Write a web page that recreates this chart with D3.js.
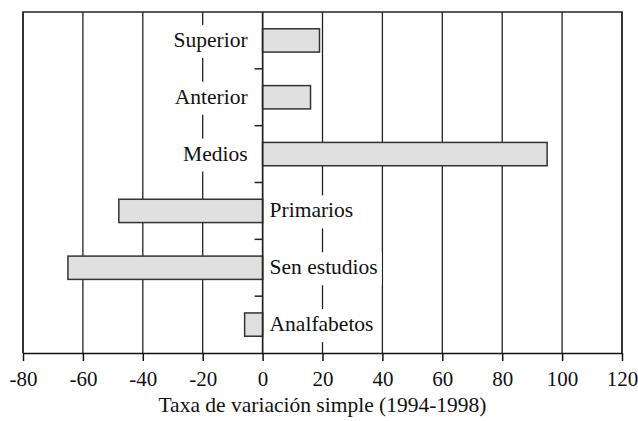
<!DOCTYPE html>
<html>
<head>
<meta charset="utf-8">
<script src="https://cdn.jsdelivr.net/npm/d3@7"></script>
<style>
  body { margin: 0; background: #fff; }
</style>
</head>
<body>
<div id="chart"></div>
<script>
// categories top to bottom
const categories = ["Superior", "Anterior", "Medios", "Primarios", "Sen estudios", "Analfabetos"];
const values = [19, 16, 95, -48, -65, -6];
const xTicks = [-80, -60, -40, -20, 0, 20, 40, 60, 80, 100, 120];
const xTitle = "Taxa de variación simple (1994-1998)";

const serif = "'Liberation Serif'";

const width = 638;
const height = 421;
const margin = { top: 12, right: 16, bottom: 68, left: 23 };
const innerW = width - margin.left - margin.right;
const innerH = height - margin.top - margin.bottom;

const svg = d3.select("#chart")
    .append("svg")
    .attr("width", width)
    .attr("height", height);

const g = svg.append("g")
    .attr("transform", `translate(${margin.left},${margin.top})`);

const x = d3.scaleLinear()
    .domain([-80, 120])
    .range([0, innerW]);

const y = d3.scaleBand()
    .domain(categories)
    .range([0, innerH])
    .paddingInner(0.59)
    .paddingOuter(0.295);

// band boundaries for the little ticks on the zero axis
const step = innerH / categories.length;

// vertical grid lines
g.append("g")
    .selectAll("line")
    .data(xTicks)
    .enter().append("line")
    .attr("x1", d => x(d))
    .attr("x2", d => x(d))
    .attr("y1", 0)
    .attr("y2", innerH)
    .attr("stroke", "#222")
    .attr("stroke-width", 1.3);

// category labels, white boxes hide the grid behind them
const labels = g.append("g")
    .selectAll("g")
    .data(categories)
    .enter().append("g");

labels.each(function(d, i) {
    const sel = d3.select(this);
    const cy = y(d) + y.bandwidth() / 2;
    const pos = values[i] >= 0;
    const t = sel.append("text")
        .attr("x", pos ? x(0) - 15 : x(0) + 7)
        .attr("y", cy)
        .attr("dy", "0.3em")
        .attr("text-anchor", pos ? "end" : "start")
        .attr("fill", "#111")
        .style("font-family", serif)
        .style("font-size", "21.5px")
        .text(d);
    const bb = t.node().getBBox();
    sel.insert("rect", "text")
        .attr("x", bb.x - 4)
        .attr("y", cy - 15.5)
        .attr("width", bb.width + 8)
        .attr("height", 33)
        .attr("fill", "#fff");
});

// bars
g.append("g")
    .selectAll("rect")
    .data(categories)
    .enter().append("rect")
    .attr("x", (d, i) => x(Math.min(0, values[i])))
    .attr("y", d => y(d))
    .attr("width", (d, i) => Math.abs(x(values[i]) - x(0)))
    .attr("height", y.bandwidth())
    .attr("fill", "#e0e0e0")
    .attr("stroke", "#333")
    .attr("stroke-width", 1.5);

// zero axis with category separators
g.append("line")
    .attr("x1", x(0)).attr("x2", x(0))
    .attr("y1", 0).attr("y2", innerH)
    .attr("stroke", "#222")
    .attr("stroke-width", 1.5);

g.append("g")
    .selectAll("line")
    .data(d3.range(1, categories.length))
    .enter().append("line")
    .attr("x1", x(0) - 8)
    .attr("x2", x(0))
    .attr("y1", d => d * step)
    .attr("y2", d => d * step)
    .attr("stroke", "#222")
    .attr("stroke-width", 1.5);

// frame
g.append("path")
    .attr("d", `M0,${innerH}V0H${innerW}V${innerH}`)
    .attr("fill", "none")
    .attr("stroke", "#222")
    .attr("stroke-width", 1.5);

// x axis
const xAxis = g.append("g")
    .attr("transform", `translate(0,${innerH})`)
    .call(d3.axisBottom(x)
        .tickValues(xTicks)
        .tickFormat(d => String(d))
        .tickSize(8)
        .tickSizeOuter(0)
        .tickPadding(10));

xAxis.attr("font-family", null).attr("font-size", null);
xAxis.select(".domain").attr("stroke", "#111").attr("stroke-width", 1.6);
xAxis.selectAll(".tick line").attr("stroke", "#111").attr("stroke-width", 1.5);
xAxis.selectAll(".tick text")
    .style("font-family", serif)
    .style("font-size", "21px")
    .attr("fill", "#111");

// axis title
svg.append("text")
    .attr("x", margin.left + innerW / 2)
    .attr("y", 412)
    .attr("text-anchor", "middle")
    .attr("fill", "#111")
    .style("font-family", serif)
    .style("font-size", "21.5px")
    .text(xTitle);
</script>
</body>
</html>
